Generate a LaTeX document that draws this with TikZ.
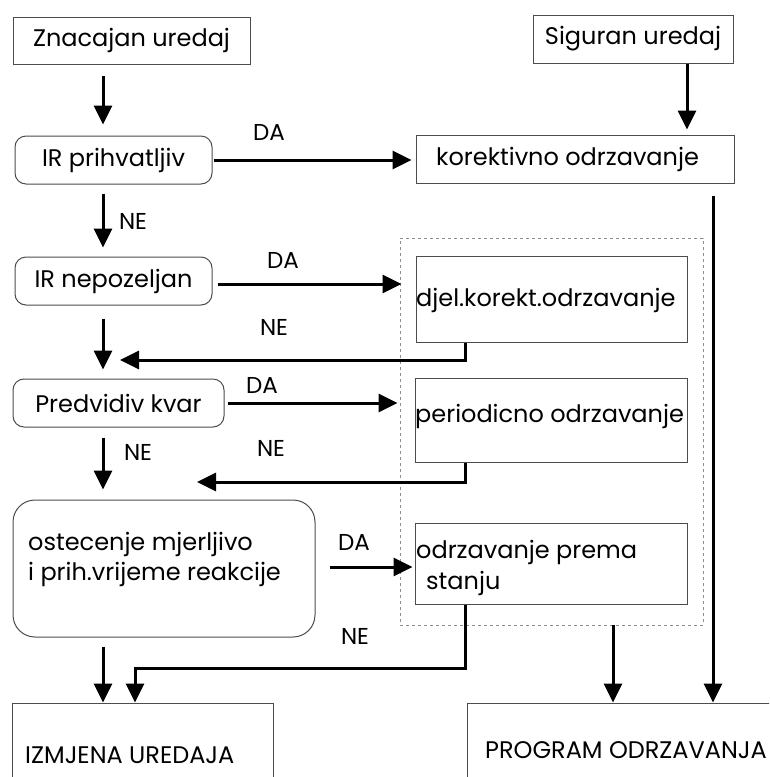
\documentclass[tikz,border=0pt]{standalone}
\usepackage{fontspec}
\setmainfont{Poppins}
\usetikzlibrary{arrows.meta}
\begin{document}
\begin{tikzpicture}[x=1pt,y=-1pt,
  box/.style={draw=black!70, line width=1pt, inner sep=0pt, font=\fontsize{24}{29}\selectfont},
  rbox/.style={box, rounded corners=11pt},
  txt/.style={inner sep=0pt, anchor=west, align=left, font=\fontsize{24}{30}\selectfont},
  dashbox/.style={draw=black!45, line width=0.8pt, dashed, inner sep=0pt},
  arr/.style={line width=3pt, -{Triangle[width=18pt,length=19pt]}},
  lbl/.style={font=\fontsize{23}{26}\selectfont, inner sep=0pt},
]
\useasboundingbox (0,0) rectangle (769,777);
\clip (0,0) rectangle (769,777);

\coordinate (colA) at (103,0);
\coordinate (colR) at (713,0);
\coordinate (colS) at (687,0);
\coordinate (colN) at (465,0);
\coordinate (colD) at (613,0);
\coordinate (rowN) at (0,284);
\coordinate (rowO) at (0,567);
\coordinate (ret1) at (120,360);
\coordinate (ret2) at (197,482);
\coordinate (ret3) at (135,668);

% boxes
\node[box, minimum width=237pt, minimum height=47pt] (zn) at (131.5,40.5) {Znacajan uredaj};
\node[box, minimum width=200pt, minimum height=48pt] (sig) at (633,39) {Siguran uredaj};
\node[rbox, minimum width=197pt, minimum height=48pt] (irp) at (113.5,160) {IR prihvatljiv};
\node[box, minimum width=318pt, minimum height=48pt] (kor) at (575,159) {};
\node[txt] (kort) at (436,159) {korektivno odrzavanje};
\node[rbox, minimum width=197pt, minimum height=48pt] (irn) at (113.5,281) {IR nepozeljan};
\node[dashbox, minimum width=303pt, minimum height=387pt] (dash) at (551.5,431.5) {};
\node[box, minimum width=271pt, minimum height=86pt] (djel) at (551.5,299) {};
\node[txt] (djelt) at (416,300) {djel.korekt.odrzavanje};
\node[rbox, minimum width=211pt, minimum height=48pt] (pred) at (118.5,403) {Predvidiv kvar};
\node[box, minimum width=272pt, minimum height=84pt] (per) at (551,420) {};
\node[txt] (pert) at (415,416) {periodicno odrzavanje};
\node[rbox, rounded corners=22pt, minimum width=302pt, minimum height=137pt] (ost) at (164,568.5) {};
\node[txt] (ostt) at (28,559) {ostecenje mjerljivo\\i prih.vrijeme reakcije};
\node[box, minimum width=272pt, minimum height=81pt] (ops) at (551,563.5) {};
\node[txt, font=\fontsize{24}{31}\selectfont] (opst) at (416,568) {odrzavanje prema\\\hspace*{10pt}stanju};
\node[box, minimum width=261pt, minimum height=97pt] (izm) at (142.5,751.5) {};
\node[txt] (izmt) at (25,755) {IZMJENA UREDAJA};
\node[box, minimum width=313pt, minimum height=97pt] (prog) at (623.5,751.5) {};
\node[txt] (progt) at (485,750) {PROGRAM ODRZAVANJA};

% vertical main flow
\draw[arr, shorten <=11pt, shorten >=11pt] (zn.south -| colA) -- (irp.north -| colA);
\draw[arr, shorten <=9pt, shorten >=9pt] (irp.south -| colA) -- (irn.north -| colA);
\draw[arr, shorten <=13pt, shorten >=9pt] (irn.south -| colA) -- (pred.north -| colA);
\draw[arr, shorten <=10pt, shorten >=10pt] (pred.south -| colA) -- (ost.north -| colA);
\draw[arr, shorten <=9pt] (ost.south -| colA) -- (izm.north -| colA);

% DA branches
\draw[arr, shorten <=1pt, shorten >=4pt] (irp.east) -- (kor.west |- irp.east);
\draw[arr, shorten <=5pt, shorten >=14pt] (irn.east |- rowN) -- (djel.west |- rowN);
\draw[arr, shorten <=3pt, shorten >=17pt] (pred.east) -- (per.west |- pred.east);
\draw[arr, shorten <=14pt, shorten >=2pt] (ost.east |- rowO) -- (ops.west |- rowO);

% right column
\draw[arr, shorten >=5pt] (sig.south -| colS) -- (kor.north -| colS);
\draw[arr, shorten <=12pt] (kor.south -| colR) -- (prog.north -| colR);
\draw[arr] (dash.south -| colD) -- (prog.north -| colD);

% NE returns
\draw[arr] (djel.south -| colN) |- (ret1);
\draw[arr] (per.south -| colN) |- (ret2);
\draw[arr] (ops.south -| colN) |- (ret3) -- (izm.north -| ret3);

% labels
\node[lbl] (l1) at (269,132) {DA};
\node[lbl] (l2) at (133,221) {NE};
\node[lbl] (l3) at (283,260) {DA};
\node[lbl] (l4) at (274,327) {NE};
\node[lbl] (l5) at (262,385) {DA};
\node[lbl] (l6) at (138,452) {NE};
\node[lbl] (l7) at (271,448) {NE};
\node[lbl] (l8) at (354,542) {DA};
\node[lbl] (l9) at (355,636) {NE};
\end{tikzpicture}
\end{document}
